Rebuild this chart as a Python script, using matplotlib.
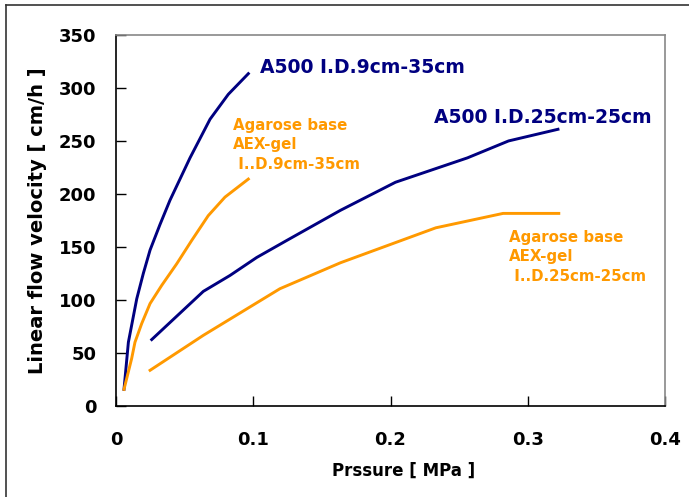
import matplotlib.pyplot as plt
from matplotlib.lines import Line2D

# A500, I.D. 9cm x 35cm
a500_9_x = [0.0058, 0.009, 0.0151, 0.0199, 0.0248, 0.032, 0.0393, 0.0539, 0.0685, 0.0818, 0.0964]
a500_9_y = [15.5, 60, 101, 125, 147, 171, 194, 234, 270.5, 294, 313.5]

# Agarose base AEX-gel, I.D. 9cm x 35cm
aga_9_x = [0.0058, 0.0114, 0.0138, 0.0187, 0.0248, 0.0333, 0.0442, 0.0551, 0.0672, 0.0794, 0.0964]
aga_9_y = [15.5, 44.7, 60, 77.6, 96.5, 113.7, 134, 156, 179.5, 197, 214]

# A500, I.D. 25cm x 25cm
a500_25_x = [0.026, 0.0636, 0.083, 0.1025, 0.1243, 0.1635, 0.2036, 0.256, 0.286, 0.322]
a500_25_y = [62.5, 108, 123, 140, 156, 184.5, 211, 234, 250, 261]

# Agarose base AEX-gel, I.D. 25cm x 25cm
aga_25_x = [0.0248, 0.0636, 0.1194, 0.1635, 0.233, 0.282, 0.3226]
aga_25_y = [33.5, 66.5, 110.5, 135, 168, 181.6, 181.6]

navy = '#000080'
orange = '#FF9900'

fig = plt.figure(figsize=(6.89, 4.97), dpi=100)
ax = fig.add_axes([0.1684, 0.1835, 0.7968, 0.7461])

ax.plot(a500_9_x, a500_9_y, color=navy, lw=2.1)
ax.plot(aga_9_x, aga_9_y, color=orange, lw=2.1)
ax.plot(a500_25_x, a500_25_y, color=navy, lw=2.1)
ax.plot(aga_25_x, aga_25_y, color=orange, lw=2.1)

ax.text(0.105, 319, 'A500 I.D.9cm-35cm', color=navy, fontsize=13.5,
        fontweight='bold', va='center', ha='left')
ax.text(0.2314, 272, 'A500 I.D.25cm-25cm', color=navy, fontsize=13.5,
        fontweight='bold', va='center', ha='left')
ax.text(0.0854, 272, 'Agarose base\nAEX-gel\n I..D.9cm-35cm', color=orange,
        fontsize=10.8, fontweight='bold', va='top', ha='left', linespacing=1.37)
ax.text(0.286, 166, 'Agarose base\nAEX-gel\n I..D.25cm-25cm', color=orange,
        fontsize=10.8, fontweight='bold', va='top', ha='left', linespacing=1.37)

ax.set_xlim(0, 0.4)
ax.set_ylim(0, 350)
ax.set_xticks([0, 0.1, 0.2, 0.3, 0.4])
ax.set_xticklabels(['0', '0.1', '0.2', '0.3', '0.4'])
ax.set_yticks(range(0, 351, 50))

ax.tick_params(direction='in', length=7, width=1, labelsize=13)
ax.tick_params(axis='y', pad=14)
ax.tick_params(axis='x', pad=18)
for lab in ax.get_xticklabels() + ax.get_yticklabels():
    lab.set_fontweight('bold')

ax.spines['left'].set_color('black')
ax.spines['bottom'].set_color('black')
ax.spines['top'].set_color('#888888')
ax.spines['right'].set_color('#888888')
for s in ax.spines.values():
    s.set_linewidth(1.2)

ax.set_xlabel('Prssure [ MPa ]', fontsize=12, fontweight='bold')
ax.xaxis.set_label_coords(0.524, -0.152)
ax.set_ylabel('Linear flow velocity [ cm/h ]', fontsize=14, fontweight='bold',
              labelpad=9)

# screenshot frame, top and left edges only
fig.add_artist(Line2D([0.008, 1.0], [0.990, 0.990], color='#333333', lw=1.2,
                      transform=fig.transFigure))
fig.add_artist(Line2D([0.008, 0.008], [0.0, 0.990], color='#333333', lw=1.2,
                      transform=fig.transFigure))

plt.savefig('out.png', dpi=100)
plt.close()
